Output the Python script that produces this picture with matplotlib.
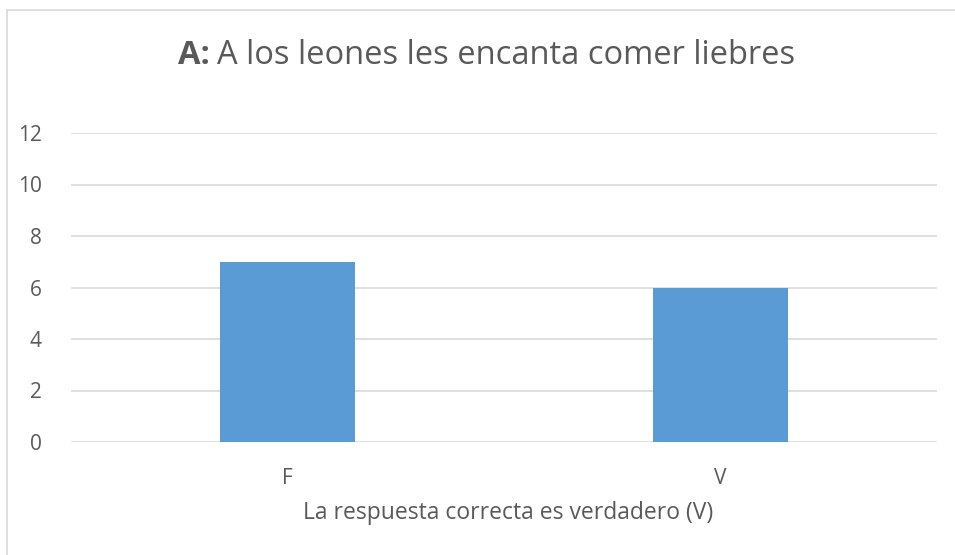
import matplotlib.pyplot as plt
from matplotlib.patches import Rectangle

# Data
categories = ["F", "V"]
counts = [7, 6]
y_ticks = [0, 2, 4, 6, 8, 10, 12]
title_bold = "A:"
title_rest = "A los leones les encanta comer liebres"
x_label = "La respuesta correcta es verdadero (V)"

TEXT = "#595959"
GRID = "#D9D9D9"
BAR = "#5B9BD5"

plt.rcParams['font.family'] = ['Open Sans', 'DejaVu Sans']

W, H = 955, 555
fig = plt.figure(figsize=(W / 100, H / 100), dpi=100)

# light frame around the chart (left/top visible, rest off the image)
fig.patches.append(Rectangle((7 / W, -0.1), 1.2, (H - 10) / H + 0.1,
                             transform=fig.transFigure, fill=False,
                             edgecolor=GRID, linewidth=1.2))

ax = fig.add_axes([71 / W, (H - 442) / H, (937 - 71) / W, (442 - 133) / H])
x = list(range(len(categories)))
ax.bar(x, counts, width=0.31, color=BAR, zorder=3)
ax.set_xlim(-0.5, len(categories) - 0.5)
ax.set_ylim(0, 12)
ax.set_yticks(y_ticks)
ax.set_xticks(x)
ax.set_xticklabels(categories)
ax.grid(axis="y", color=GRID, linewidth=1.2, zorder=0)
for s in ax.spines.values():
    s.set_visible(False)
ax.tick_params(length=0, colors=TEXT, labelsize=15)
ax.tick_params(axis="y", pad=21)
ax.tick_params(axis="x", pad=19)

# title: bold prefix + regular rest, centred as a whole
ty = 1 - 56 / H
t1 = fig.text(0, ty, title_bold, ha="left", va="center",
              fontsize=23.5, fontweight="bold", color=TEXT)
t2 = fig.text(0, ty, title_rest, ha="left", va="center",
              fontsize=23.5, color=TEXT)
fig.canvas.draw()
w1 = t1.get_window_extent().width
w2 = t2.get_window_extent().width
gap = 7
x0 = (178 + 795) / 2 - (w1 + gap + w2) / 2
t1.set_x(x0 / W)
t2.set_x((x0 + w1 + gap) / W)

fig.text((300 + 716) / 2 / W, 1 - 513 / H, x_label,
         ha="center", va="center", fontsize=16.5, color=TEXT)

fig.savefig("out.png", dpi=100)
